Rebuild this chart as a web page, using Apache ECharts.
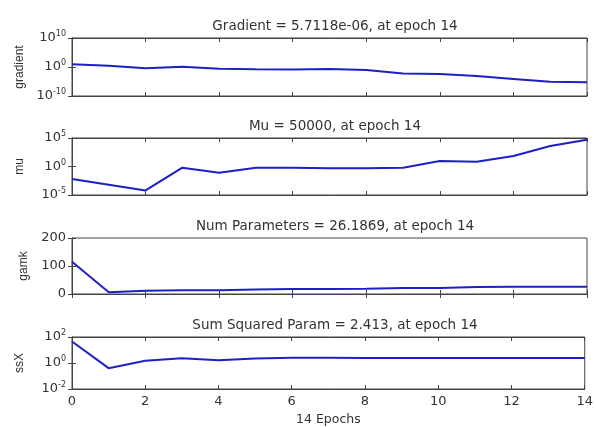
<!DOCTYPE html>
<html><head><meta charset="utf-8">
<script src="https://cdn.jsdelivr.net/npm/echarts@6/dist/echarts.min.js"></script>
<style>html,body{margin:0;padding:0;background:#fff}#c{width:596px;height:427px}</style>
</head><body><div id="c"></div>
<script>
const epochs = [0,1,2,3,4,5,6,7,8,9,10,11,12,13,14];
const xTicks = [0,2,4,6,8,10,12,14];
const gradient = [8.5, 2.8, 0.35, 1.26, 0.25, 0.16, 0.126, 0.2, 0.1, 0.0063, 0.004, 0.0008, 0.00008, 0.000008, 5.7118e-6];
const mu = [0.0063, 0.00063, 0.000063, 0.63, 0.08, 0.63, 0.63, 0.5, 0.5, 0.63, 9, 7, 70, 4000, 50000];
const gamk = [115, 6, 12, 13, 13, 16, 18, 18, 19, 21, 21, 25, 26, 26, 26.1869];
const ssX = [45, 0.4, 1.5, 2.3, 1.6, 2.2, 2.5, 2.5, 2.4, 2.4, 2.4, 2.41, 2.41, 2.41, 2.413];
const titles = ['Gradient = 5.7118e-06, at epoch 14','Mu = 50000, at epoch 14','Num Parameters = 26.1869, at epoch 14','Sum Squared Param = 2.413, at epoch 14'];
const yNames = ['gradient','mu','gamk','ssX'];
const seriesData = [gradient, mu, gamk, ssX];
const yCfg = [
  {type:'log', min:1e-10, max:1e10, interval:10},
  {type:'log', min:1e-5, max:1e5, interval:5},
  {type:'value', min:0, max:200, interval:100},
  {type:'log', min:1e-2, max:1e2, interval:2}
];
const grids = [
  {top:38, height:58},{top:138, height:57},{top:238, height:56},{top:337, height:54}
];
const txt = '#333';
const font = 'DejaVu Sans, sans-serif';
const font2 = 'Liberation Sans, Arial, sans-serif';
function logFmt(v){ const e = Math.round(Math.log10(v)); return '{b|10}{s|' + e + '}'; }
const rich = { b:{fontSize:13, fontFamily:font, color:txt}, s:{fontSize:8, fontFamily:font, color:txt, padding:[0,0,8,0]} };
const option = {animation:false, backgroundColor:'#fff', title:[], grid:[], xAxis:[], yAxis:[], series:[]};
grids.forEach((g,i)=>{
  option.grid.push({left:72, right:9, top:g.top, height:g.height, show:true, borderColor:'#444', borderWidth:1, backgroundColor:'#fff'});
  option.title.push({text:titles[i], left:330, textAlign:'center', top:g.top-24, textStyle:{fontSize:13.5, fontWeight:'normal', color:txt, fontFamily:font}});
  const last = i===3;
  const xb = {type:'value', gridIndex:i, min:0, max:14, interval:2, position:'bottom',
    axisLine:{show:true, lineStyle:{color:'#444'}}, axisTick:{show:true, inside:true, length:4, lineStyle:{color:'#444'}},
    axisLabel:{show:last, fontSize:13, color:txt, fontFamily:font, margin:6}, splitLine:{show:false}};
  if (last){ xb.name='14 Epochs'; xb.nameLocation='middle'; xb.nameGap=24; xb.nameTextStyle={fontSize:12.5, color:txt, fontFamily:font}; }
  option.xAxis.push(xb);
  option.xAxis.push({type:'value', gridIndex:i, min:0, max:14, interval:2, position:'top',
    axisLine:{show:true, lineStyle:{color:'#444'}}, axisTick:{show:true, inside:true, length:4, lineStyle:{color:'#444'}},
    axisLabel:{show:false}, splitLine:{show:false}});
  const yc = yCfg[i];
  const isLog = yc.type==='log';
  const yl = Object.assign({gridIndex:i, position:'left', name:yNames[i], nameLocation:'middle', nameGap:isLog?46:42,
    nameTextStyle:{fontSize:12, color:txt, fontFamily:font2},
    axisLine:{show:true, lineStyle:{color:'#444'}}, axisTick:{show:true, inside:true, length:4, lineStyle:{color:'#444'}},
    axisLabel:{fontSize:13, color:txt, fontFamily:font, margin:6, formatter: isLog? logFmt : undefined, rich: isLog? rich: undefined},
    splitLine:{show:false}, minorTick:{show:false}}, yc);
  if (isLog) yl.logBase = 10;
  option.yAxis.push(yl);
  option.yAxis.push(Object.assign({gridIndex:i, position:'right',
    axisLine:{show:true, lineStyle:{color:'#444'}}, axisTick:{show:true, inside:true, length:4, lineStyle:{color:'#444'}},
    axisLabel:{show:false}, splitLine:{show:false}}, yc, isLog?{logBase:10}:{}));
  option.series.push({type:'line', xAxisIndex:i*2, yAxisIndex:i*2, data: epochs.map((e,k)=>[e, seriesData[i][k]]),
    showSymbol:false, symbol:'none', lineStyle:{color:'#1f1fc8', width:2}, z:3});
});
echarts.init(document.getElementById('c')).setOption(option);
</script></body></html>
